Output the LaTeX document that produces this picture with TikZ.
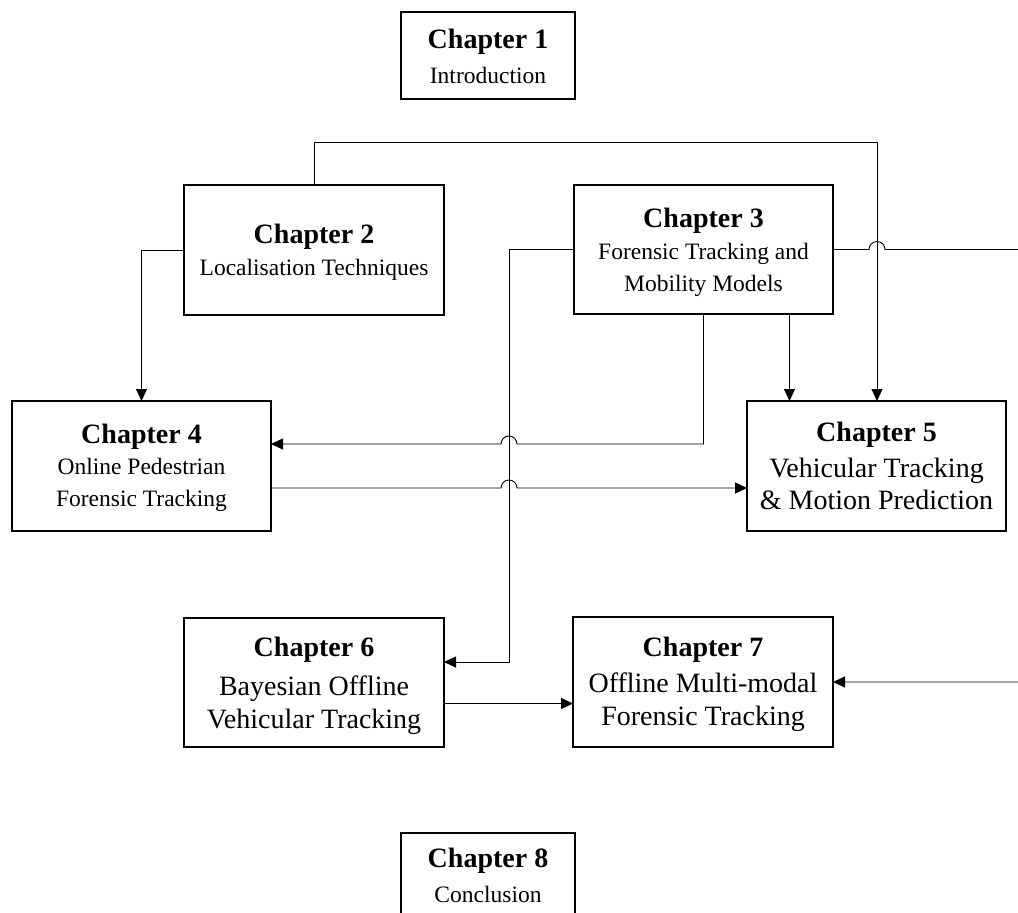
\documentclass[tikz,border=0pt]{standalone}
\usepackage{fontspec}
\setmainfont{Liberation Serif}
\usetikzlibrary{arrows.meta}
\tikzset{
  chbox/.style={draw, line width=1.6pt, inner sep=0pt, outer sep=0pt, anchor=north west},
  conn/.style={draw, line width=0.9pt},
  arr/.style={conn, -{Triangle[length=12pt,width=11pt]}},
  head/.style={anchor=base, inner sep=0pt, font=\fontsize{28}{32}\selectfont\bfseries},
  small/.style={anchor=base, inner sep=0pt, font=\fontsize{23.5}{28}\selectfont},
  large/.style={anchor=base, inner sep=0pt, font=\fontsize{28}{32}\selectfont},
}
\begin{document}
\begin{tikzpicture}[x=1pt,y=-1pt]
\useasboundingbox (0,0) rectangle (1018,913);
\clip (0,0) rectangle (1018,913);
% boxes
\node[chbox, minimum width=174pt, minimum height=87pt] (c1) at (401,12) {};
\node[chbox, minimum width=260pt, minimum height=130pt] (c2) at (184,185) {};
\node[chbox, minimum width=259pt, minimum height=129pt] (c3) at (574,185) {};
\node[chbox, minimum width=259pt, minimum height=130pt] (c4) at (12,401) {};
\node[chbox, minimum width=259pt, minimum height=130pt] (c5) at (747,401) {};
\node[chbox, minimum width=260pt, minimum height=129pt] (c6) at (184,618) {};
\node[chbox, minimum width=260pt, minimum height=130pt] (c7) at (573,617) {};
\node[chbox, minimum width=174pt, minimum height=120pt] (c8) at (401,833) {};
% texts
\node[head] (t1a) at (488,48) {Chapter 1};
\node[small] (t1b) at (488,83) {Introduction};
\node[head] (t2a) at (314,243) {Chapter 2};
\node[small] (t2b) at (314,275) {Localisation Techniques};
\node[head] (t3a) at (703.5,227) {Chapter 3};
\node[small] (t3b) at (703.5,259) {Forensic Tracking and};
\node[small] (t3c) at (703.5,291) {Mobility Models};
\node[head] (t4a) at (141.5,443) {Chapter 4};
\node[small] (t4b) at (141.5,474) {Online Pedestrian};
\node[small] (t4c) at (141.5,506) {Forensic Tracking};
\node[head] (t5a) at (876.5,441) {Chapter 5};
\node[large] (t5b) at (876.5,477) {Vehicular Tracking};
\node[large] (t5c) at (876.5,509) {\& Motion Prediction};
\node[head] (t6a) at (314,656) {Chapter 6};
\node[large] (t6b) at (314,695) {Bayesian Offline};
\node[large] (t6c) at (314,728) {Vehicular Tracking};
\node[head] (t7a) at (703,656) {Chapter 7};
\node[large] (t7b) at (703,692) {Offline Multi-modal};
\node[large] (t7c) at (703,725) {Forensic Tracking};
\node[head] (t8a) at (488,867) {Chapter 8};
\node[small] (t8b) at (488,902) {Conclusion};
% connectors
\coordinate (k1) at (877,142);
\draw[arr] (c2.north) |- (k1) -- (k1 |- c5.north);
\draw[arr] (c2.west) -| (c4.north);
\coordinate (k3) at (509,662);
\draw[arr] (c3.west) -| (k3) -- (k3 -| c6.east);
\draw[arr] (c3.east) -- ([xshift=36pt]c3.east) arc[start angle=180,end angle=0,radius=8pt] -- ([xshift=197pt]c3.east) |- (c7.east);
\coordinate (k5) at (703.5,444);
\draw[arr] (c3.south) -- (k5) -- (517,444) arc[start angle=0,end angle=180,radius=8pt] -- (k5 -| c4.east);
\draw[arr] ([xshift=86pt]c3.south) -- ([xshift=86pt]c3.south |- c5.north);
\draw[arr] ([yshift=-22pt]c4.east) -- (501,488) arc[start angle=180,end angle=0,radius=8pt] -- ([yshift=-22pt]c5.west);
\draw[arr] ([yshift=-21pt]c6.east) -- ([yshift=-21pt]c6.east -| c7.west);
\end{tikzpicture}
\end{document}
